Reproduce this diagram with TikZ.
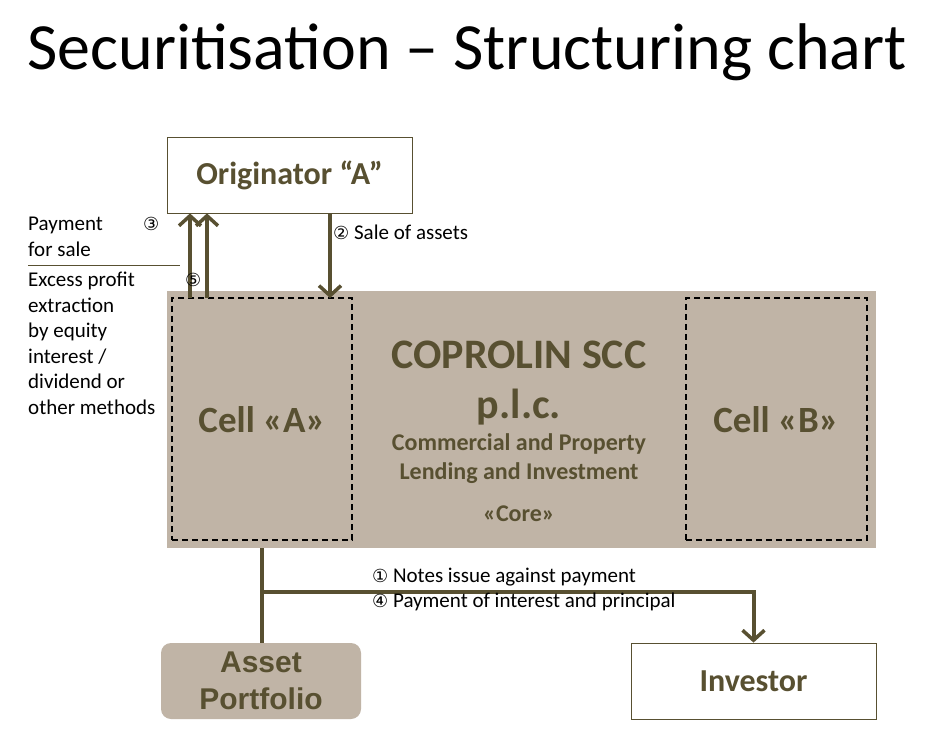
\documentclass[tikz,border=0pt]{standalone}
\usepackage{fontspec}
\setmainfont{Carlito}
\newfontfamily\symf{DejaVu Sans}
\newfontfamily\arialf{Liberation Sans}
\usetikzlibrary{arrows.meta}
\definecolor{olive}{HTML}{585031}
\definecolor{tan}{HTML}{C0B4A6}
\tikzset{
 box/.style={draw=olive,line width=0.8pt,fill=white,text=olive,font=\bfseries\fontsize{32}{38}\selectfont},
 cell/.style={draw=black,dashed,line width=1.5pt,dash pattern=on 6pt off 4pt},
 conn/.style={olive,line width=4pt},
 arr/.style={conn,-{Straight Barb[length=10pt,width=22pt,line width=3.5pt]}},
 lbl/.style={font=\fontsize{21}{25.5}\selectfont,anchor=west,inner sep=0pt},
 num/.style={font=\symf\fontsize{18}{20}\selectfont},
 mid/.style={text=olive,font=\bfseries,align=center},
}
\begin{document}
\begin{tikzpicture}[x=1pt,y=-1pt]
\useasboundingbox[fill=white] (0,0) rectangle (942,735);
\node[font=\fontsize{66}{72}\selectfont] (title) at (467,52) {Securitisation -- Structuring chart};
\node[box,minimum width=245pt,minimum height=76pt] (orig) at (289.5,175) {Originator “A”};
\node[draw=none,fill=tan,minimum width=709pt,minimum height=257pt,inner sep=0pt] (core) at (521.5,419.5) {};
\node[cell,minimum width=180pt,minimum height=242pt] (ca) at (262,419) {};
\node[cell,minimum width=181pt,minimum height=242pt] (cb) at (776.5,419) {};
\node[mid,font=\bfseries\fontsize{37}{40}\selectfont] at (262,420) {Cell «A»};
\node[mid,font=\bfseries\fontsize{37}{40}\selectfont] at (776,420) {Cell «B»};
\node[mid,font=\bfseries\fontsize{42}{48}\selectfont] at (519,355) {COPROLIN SCC};
\node[mid,font=\bfseries\fontsize{42}{48}\selectfont] at (519,407) {p.l.c.};
\node[mid,font=\bfseries\fontsize{24}{29}\selectfont] at (519,459) {Commercial and Property\\Lending and Investment};
\node[mid,font=\bfseries\fontsize{24}{28}\selectfont] at (519,514) {«Core»};
\node[box,draw=none,fill=tan,rounded corners=10pt,minimum width=200pt,minimum height=76pt,align=center,font=\arialf\bfseries\fontsize{30}{37}\selectfont] (ap) at (261,681) {Asset\\Portfolio};
\node[box,minimum width=245pt,minimum height=76pt] (inv) at (753.5,681) {Investor};
\coordinate (u1) at (190,298); \coordinate (u2) at (207,298); \coordinate (d1) at (330,298);
\draw[arr] (u1) -- (u1 |- orig.south);
\draw[arr] (u2) -- (u2 |- orig.south);
\draw[arr] (d1 |- orig.south) -- (d1);
\coordinate (jn) at (262,592);
\draw[conn] (core.south -| jn) -- (ap.north -| jn);
\draw[arr] (jn) -| (inv.north);
\node[lbl] at (333,232) {{\symf\fontsize{18}{20}\selectfont ②} Sale of assets};
\node[lbl,align=left,anchor=north west] at (28,217) {Payment\\for sale};
\node[lbl,num] at (143,224) {③};
\draw[olive,line width=0.8pt] (28,265) -- (180,265);
\node[lbl,align=left,anchor=north west] at (28,272) {Excess profit\\extraction\\by equity\\interest /\\dividend or\\other methods};
\node[lbl,num] at (185,280) {⑤};
\node[lbl] at (372,577) {{\symf\fontsize{18}{20}\selectfont ①} Notes issue against payment};
\node[lbl] at (372,602) {{\symf\fontsize{18}{20}\selectfont ④} Payment of interest and principal};
\end{tikzpicture}
\end{document}
